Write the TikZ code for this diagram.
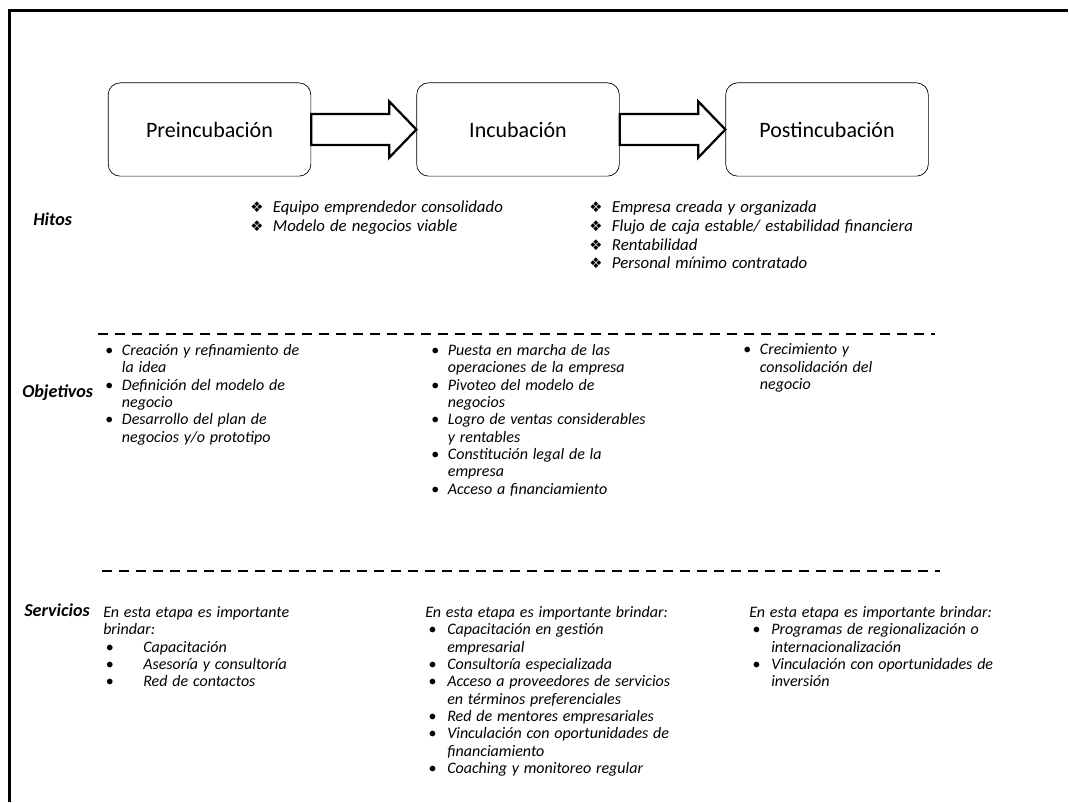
\documentclass[tikz,border=0pt]{standalone}
\usepackage{fontspec}
\setmainfont{Carlito}
\newfontfamily\symfont{DejaVu Sans}
\usepackage{tikz}
\usetikzlibrary{calc}

\newcommand{\hito}{\strut\makebox[17pt][l]{\upshape\symfont\fontsize{11}{11}\selectfont ❖}}
\newcommand{\itm}[2]{\strut\hspace*{#1}\makebox[#2][l]{\upshape •}}
\newcommand{\sig}[1]{\strut\hspace*{#1}}
\newcommand{\listfont}{\fontsize{12}{13}\selectfont\itshape\spaceskip=3.6pt plus 1pt\relax}
\newcommand{\hitofont}{\fontsize{12.6}{14}\selectfont\itshape\spaceskip=3.8pt plus 1pt\relax}

\begin{document}
\begin{tikzpicture}[x=0.75pt,y=-0.75pt,
  etapa/.style={draw,line width=0.5pt,rounded corners=9pt,minimum width=152pt,minimum height=70pt,font=\fontsize{16.5}{18}\selectfont},
  flecha/.style={draw,line width=1.7pt,line join=miter,fill=white},
  fila/.style={anchor=west,inner sep=0pt,font=\fontsize{13.6}{15}\selectfont\bfseries\itshape},
  lista/.style={anchor=north west,inner sep=0pt,align=left,font=\listfont},
  separador/.style={line width=1.6pt,dash pattern=on 7.5pt off 5.25pt}]
  \useasboundingbox (0,0) rectangle (1069,802);
  \draw[line width=1.6pt] (9.5,802) -- (9.5,10.5) -- (1068,10.5);

  % etapas
  \node[etapa] (pre) at (209.5,129.5) {Preincubación};
  \node[etapa] (inc) at (518,129.5) {Incubación};
  \node[etapa] (post) at (827,129.5) {Postincubación};
  \foreach \a/\b in {pre/inc,inc/post}
    \draw[flecha] ($(\a.east)+(0,-15.5)$) -- ($(\b.west)+(-27,-15.5)$) -- ($(\b.west)+(-27,-28)$)
      -- (\b.west) -- ($(\b.west)+(-27,28)$) -- ($(\b.west)+(-27,15.5)$) -- ($(\a.east)+(0,15.5)$) -- cycle;

  % filas
  \node[fila] (hitos) at (33,219) {Hitos};
  \node[fila] (objetivos) at (22,393) {Objetivos};
  \node[fila] (servicios) at (24,610) {Servicios};

  \draw[separador] (98,334) -- (935,334);
  \draw[separador] (102,571) -- (940,571);

  % hitos
  \node[lista,font=\hitofont] (hitosB) at (250,199.5) {\hito Equipo emprendedor consolidado\\
    \hito Modelo de negocios viable};
  \node[lista,font=\hitofont] (hitosC) at (589,199.5) {\hito Empresa creada y organizada\\
    \hito Flujo de caja estable/ estabilidad financiera\\
    \hito Rentabilidad\\
    \hito Personal mínimo contratado};

  % objetivos
  \node[lista] (objA) at (105,343) {\itm{0pt}{12.5pt}Creación y refinamiento de\\
    \sig{12.5pt}la idea\\
    \itm{0pt}{12.5pt}Definición del modelo de\\
    \sig{12.5pt}negocio\\
    \itm{0pt}{12.5pt}Desarrollo del plan de\\
    \sig{12.5pt}negocios y/o prototipo};
  \node[lista] (objB) at (431,343) {\itm{0pt}{12.5pt}Puesta en marcha de las\\
    \sig{12.5pt}operaciones de la empresa\\
    \itm{0pt}{12.5pt}Pivoteo del modelo de\\
    \sig{12.5pt}negocios\\
    \itm{0pt}{12.5pt}Logro de ventas considerables\\
    \sig{12.5pt}y rentables\\
    \itm{0pt}{12.5pt}Constitución legal de la\\
    \sig{12.5pt}empresa\\
    \itm{0pt}{12.5pt}Acceso a financiamiento};
  \node[lista] (objC) at (743,342.5) {\itm{0pt}{12.5pt}Crecimiento y\\
    \sig{12.5pt}consolidación del\\
    \sig{12.5pt}negocio};

  % servicios
  \node[lista] (srvA) at (103,605) {\strut En esta etapa es importante\\
    \strut brindar:\\
    \itm{2pt}{28pt}Capacitación\\
    \itm{2pt}{28pt}Asesoría y consultoría\\
    \itm{2pt}{28pt}Red de contactos};
  \node[lista] (srvB) at (425,605) {\strut En esta etapa es importante brindar:\\
    \itm{2.5pt}{14pt}Capacitación en gestión\\
    \sig{16.5pt}empresarial\\
    \itm{2.5pt}{14pt}Consultoría especializada\\
    \itm{2.5pt}{14pt}Acceso a proveedores de servicios\\
    \sig{16.5pt}en términos preferenciales\\
    \itm{2.5pt}{14pt}Red de mentores empresariales\\
    \itm{2.5pt}{14pt}Vinculación con oportunidades de\\
    \sig{16.5pt}financiamiento\\
    \itm{2.5pt}{14pt}Coaching y monitoreo regular};
  \node[lista] (srvC) at (749,605) {\strut En esta etapa es importante brindar:\\
    \itm{2.5pt}{14pt}Programas de regionalización o\\
    \sig{16.5pt}internacionalización\\
    \itm{2.5pt}{14pt}Vinculación con oportunidades de\\
    \sig{16.5pt}inversión};
\end{tikzpicture}
\end{document}
